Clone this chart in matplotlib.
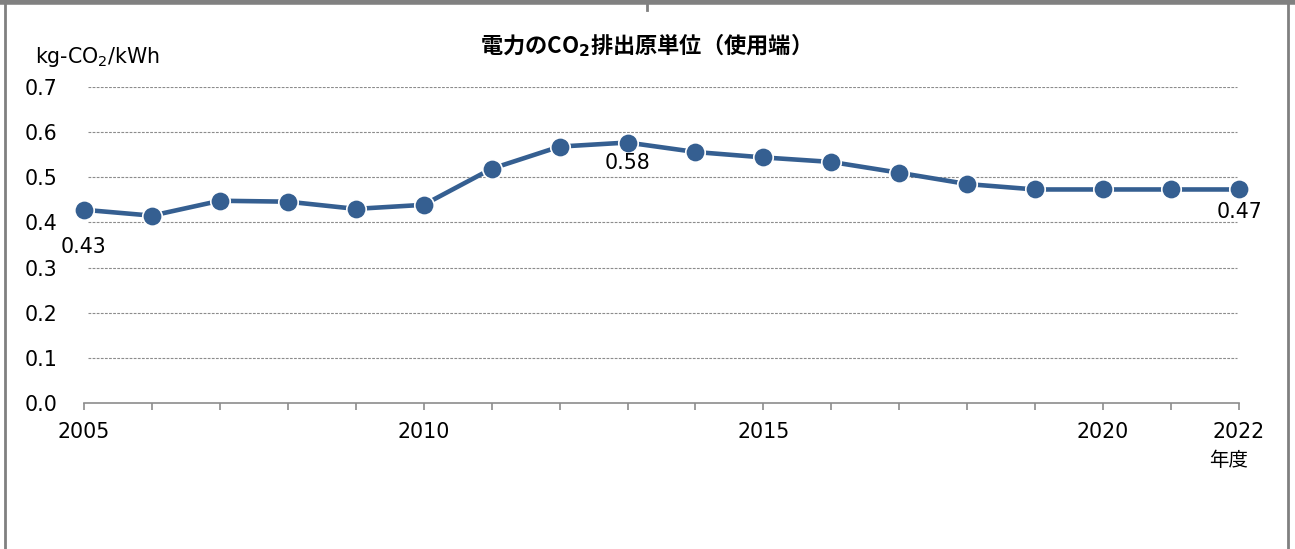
import matplotlib
matplotlib.use("Agg")
import matplotlib.pyplot as plt
from matplotlib.lines import Line2D

years = list(range(2005, 2023))
values = [0.428, 0.415, 0.448, 0.446, 0.430, 0.439, 0.519, 0.568, 0.577,
          0.556, 0.544, 0.534, 0.510, 0.485, 0.473, 0.473, 0.473, 0.473]
major_years = [2005, 2010, 2015, 2020, 2022]
y_ticks = [0.0, 0.1, 0.2, 0.3, 0.4, 0.5, 0.6, 0.7]
labels = {2005: "0.43", 2013: "0.58", 2022: "0.47"}
label_offsets = {2005: -27, 2013: -15, 2022: -16}

title = "電力のCO$_\\mathbf{2}$排出原単位（使用端）"
unit = "kg-CO$_2$/kWh"
xunit = "年度"

line_color = "#355F91"
cjk = ["Noto Sans CJK JP", "DejaVu Sans"]
fs = 14.8

fig = plt.figure(figsize=(12.95, 5.49), dpi=100)
ax = fig.add_axes([84/1295, 1-403/549, (1239-84)/1295, (403-87)/549])

ax.plot(years, values, color=line_color, lw=3.3, marker="o", ms=14,
        markeredgecolor="white", markeredgewidth=1.2, clip_on=False, zorder=5)

ax.set_xlim(2005, 2022)
ax.set_ylim(0, 0.7)
ax.set_yticks(y_ticks)
ax.set_yticklabels([f"{v:.1f}" for v in y_ticks])
ax.set_xticks(major_years)
ax.set_xticklabels([str(y) for y in major_years])
ax.set_xticks(years, minor=True)

ax.tick_params(axis="y", length=0, pad=19, labelsize=fs)
ax.tick_params(axis="x", which="both", length=5, color="#8c8c8c", width=1.2,
               direction="out")
ax.tick_params(axis="x", which="major", pad=9, labelsize=fs)

for s in ["left", "right", "top"]:
    ax.spines[s].set_visible(False)
ax.spines["bottom"].set_color("#8c8c8c")
ax.spines["bottom"].set_linewidth(1.2)

for v in y_ticks[1:]:
    ax.axhline(v, xmin=4/1155, xmax=1153/1155, color="#8c8c8c", lw=0.8,
               ls=(0, (2.5, 1.2)), zorder=1)

for yr, txt in labels.items():
    i = years.index(yr)
    ax.annotate(txt, (yr, values[i]), xytext=(0, label_offsets[yr]),
                textcoords="offset points", ha="center", va="center",
                fontsize=fs, color="black", zorder=6)

fig.text(640/1295, 1-45/549, title, ha="center", va="center",
         fontsize=16, fontweight="bold", family="Noto Sans CJK JP")
fig.text(35/1295, 1-57/549, unit, ha="left", va="center", fontsize=fs)
fig.text(1229/1295, 1-461/549, xunit, ha="center", va="center",
         fontsize=14, family=cjk)

# outer frame
gray = "#808080"
fig.add_artist(Line2D([5/1295, 5/1295], [0, 1], transform=fig.transFigure,
                      color=gray, lw=2))
fig.add_artist(Line2D([1288/1295, 1288/1295], [0, 1], transform=fig.transFigure,
                      color=gray, lw=2))
fig.add_artist(Line2D([0, 1], [1-2/549, 1-2/549], transform=fig.transFigure,
                      color=gray, lw=4))
fig.add_artist(Line2D([647/1295, 647/1295], [1, 1-10/549], transform=fig.transFigure,
                      color=gray, lw=2))

fig.savefig("out.png", dpi=100)
